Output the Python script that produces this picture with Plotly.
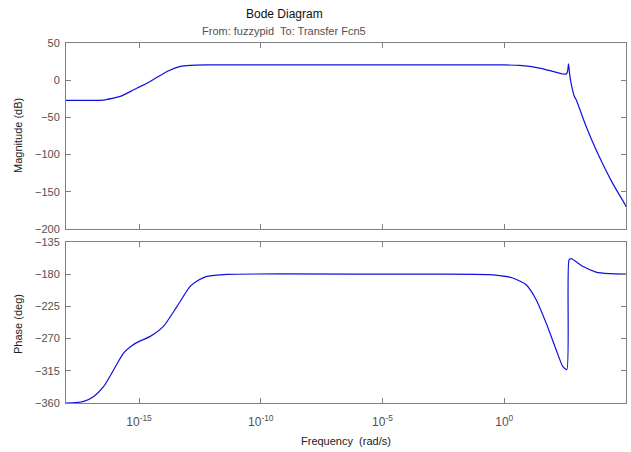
import numpy as np
import plotly.graph_objects as go
from plotly.subplots import make_subplots

# ---- data ----
mag_freq_exp = [-18, -17.0, -16.45, -16.1, -15.77, -15.22, -14.54, -13.85, -13.3, -12.9,
                -12.2, -5, 0.0, 0.63, 1.45, 1.99, 2.40, 2.55, 2.60, 2.64, 2.68, 2.75,
                2.88, 2.95, 3.36, 3.77, 4.44, 4.96, 5.0]
mag_db = [-27, -27, -26.7, -24.5, -21.8, -12.9, -1.7, 11.8, 18.5, 20.0,
          20.5, 20.5, 20.5, 19.9, 16.3, 11.8, 8.3, 8.5, 12, 22, 9.6, -5,
          -21.8, -26, -62, -93.6, -138, -167, -170]

ph_freq_exp = [-18, -17.6, -17.27, -16.86, -16.45, -16.04, -15.63, -15.3, -15.08, -14.54,
               -14.0, -13.44, -12.9, -12.55, -12.21, -11.39, -5, -0.6, 0.35, 0.9,
               1.31, 1.72, 2.13, 2.40, 2.57, 2.66, 2.75, 3.22, 3.77, 4.32, 5.0]
ph_deg = [-360, -359.5, -357.7, -350.8, -336.8, -313.5, -290.1, -280, -275.3, -266.9,
          -252.9, -225, -197, -188, -183, -180.2, -180, -180.5, -185.3, -194.7,
          -215.6, -248.2, -285.5, -308.8, -313.5, -160, -158.3, -169, -177, -179.3, -180]

mag_ticks = [50, 0, -50, -100, -150, -200]
ph_ticks = [-135, -180, -225, -270, -315, -360]
x_tick_vals = [1e-15, 1e-10, 1e-5, 1e0]
x_tick_text = ["10<sup>-15</sup>", "10<sup>-10</sup>", "10<sup>-5</sup>", "10<sup>0</sup>"]

mag_freq = 10.0 ** np.array(mag_freq_exp)
ph_freq = 10.0 ** np.array(ph_freq_exp)

W, H = 631, 452
L, R, T, B = 66, 626, 43, 403
top_bottom = 229
bot_top = 242
ph_h = B - T

fig = make_subplots(rows=2, cols=1, shared_xaxes=False)
line = dict(color="#1010e0", width=1.2, shape="spline", smoothing=0.6)
fig.add_trace(go.Scatter(x=mag_freq, y=mag_db, mode="lines", line=line, showlegend=False), row=1, col=1)
fig.add_trace(go.Scatter(x=ph_freq, y=ph_deg, mode="lines", line=line, showlegend=False), row=2, col=1)

axis_common = dict(showline=True, linecolor="#808080", linewidth=1, mirror="ticks",
                   ticks="inside", ticklen=5, tickcolor="#808080", showgrid=False,
                   zeroline=False, tickfont=dict(family="Liberation Sans, Arial", size=11, color="#505050"))

fig.update_xaxes(type="log", range=[-18, 5], tickvals=x_tick_vals, ticktext=x_tick_text,
                 ticklabelstandoff=8, **axis_common)
fig.update_xaxes(tickfont=dict(family="Liberation Sans, Arial", size=12, color="#505050"))
fig.update_xaxes(showticklabels=False, row=1, col=1)
fig.update_yaxes(ticklabelstandoff=3, **axis_common)
fig.update_yaxes(range=[-200, 50], tickvals=mag_ticks, row=1, col=1)
fig.update_yaxes(range=[-360, -135], tickvals=ph_ticks, row=2, col=1)

fig.update_layout(
    width=W, height=H,
    margin=dict(l=L, r=W - R, t=T, b=H - B, pad=0),
    plot_bgcolor="white", paper_bgcolor="white",
    xaxis=dict(domain=[0, 1]),
    xaxis2=dict(domain=[0, 1]),
    yaxis=dict(domain=[(B - top_bottom) / ph_h, 1]),
    yaxis2=dict(domain=[0, (B - bot_top) / ph_h]),
    font=dict(family="Liberation Sans, Arial", size=11, color="#202020"),
)

def px_x(p):
    return (p - L) / (R - L)

def px_y(p):
    return (B - p) / ph_h

ann = [
    dict(text="Bode Diagram", x=px_x(284), y=px_y(14), font=dict(size=12, color="#101010")),
    dict(text="From: fuzzypid  To: Transfer Fcn5", x=px_x(284), y=px_y(31.5), font=dict(size=11, color="#505050")),
    dict(text="Magnitude (dB)", x=px_x(18), y=px_y(136), textangle=-90, font=dict(size=11, color="#202020")),
    dict(text="Phase (deg)", x=px_x(18), y=px_y(324), textangle=-90, font=dict(size=11, color="#202020")),
    dict(text="Frequency  (rad/s)", x=px_x(346), y=px_y(441), font=dict(size=11, color="#202020")),
]
for a in ann:
    fig.add_annotation(xref="paper", yref="paper", showarrow=False, xanchor="center", yanchor="middle", **a)

fig.write_html("out.html")
